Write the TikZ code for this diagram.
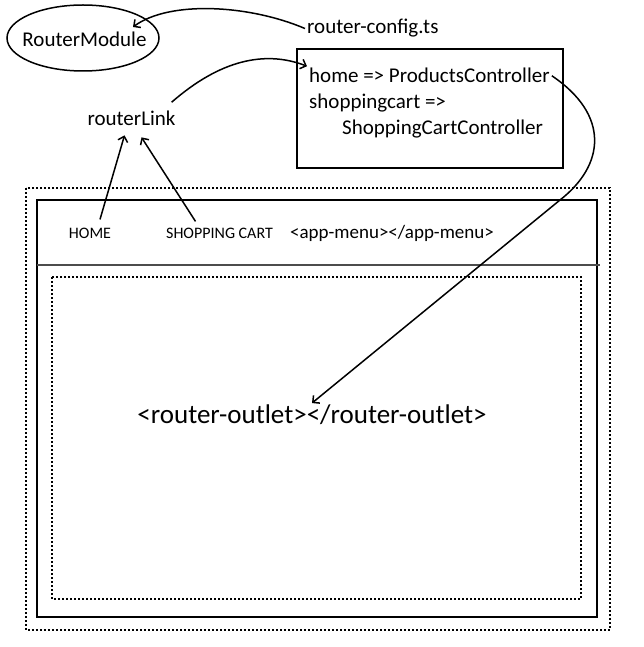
\documentclass[tikz,border=0pt]{standalone}
\usepackage{fontspec}
\setmainfont{Carlito}
\usetikzlibrary{arrows.meta,shapes.geometric}

\tikzset{
  txt/.style={font=\fontsize{21}{25}\selectfont, inner sep=2pt},
  menutxt/.style={font=\fontsize{16}{19}\selectfont, inner sep=2pt},
  solidframe/.style={line width=2pt},
  dotframe/.style={line width=2pt, dash pattern=on 2pt off 2pt},
  arrowlink/.style={line width=1.5pt, -{Straight Barb[length=5pt,width=10pt]}},
}

\begin{document}
\begin{tikzpicture}[x=1pt,y=-1pt]
        \useasboundingbox (0,0) rectangle (643,647);
        % page frames
        \draw[dotframe] (26,188) rectangle (610,630);
        \draw[solidframe] (37,200) rectangle (597,617);
        \draw[line width=2pt, black!70] (37,265) -- (600,265);
        \draw[dotframe] (52,277) rectangle (581,599);
        % top part
        \node[draw, ellipse, line width=1.5pt, minimum width=152pt, minimum height=66pt, inner sep=0pt] (rmod) at (83,38) {};
        \node[txt, anchor=base] (rmodtxt) at (84.5,47) {RouterModule};
        \node[txt, anchor=base west] (cfgfile) at (305,34) {router-config.ts};
        \node[draw, solidframe, minimum width=266pt, minimum height=119pt] (cfgbox) at (430,108.5) {};
        \node[txt, anchor=base west] (homeln) at (307,83) {home => ProductsController};
        \node[txt, anchor=base west] (cartln) at (307,109) {shoppingcart =>};
        \node[txt, anchor=base west] (cartctl) at (340,135) {ShoppingCartController};
        \node[txt, anchor=base] (rlink) at (131.5,126) {routerLink};
        % menu and outlet
        \node[menutxt, anchor=base] (homeitem) at (90,238) {HOME};
        \node[menutxt, anchor=base] (cartitem) at (219.5,238) {SHOPPING CART};
        \node[menutxt, font=\fontsize{19}{22}\selectfont, anchor=base] (appmenu) at (392,238) {<app-menu></app-menu>};
        \node[font=\fontsize{27}{32}\selectfont, inner sep=1pt, anchor=base] (outlet) at (312,423) {<router-outlet></router-outlet>};
        % arrows
        \draw[arrowlink] (cfgfile.west) .. controls (250,5) and (170,0) .. ([xshift=50pt,yshift=11pt]rmod.center);
        \draw[arrowlink] ([xshift=-6pt,yshift=7pt]rlink.north east) .. controls (220,60) and (265,50) .. (homeln.north west);
        \draw[arrowlink] ([xshift=10pt,yshift=6pt]homeitem.north) -- ([xshift=-7pt,yshift=-7pt]rlink.south);
        \draw[arrowlink] ([xshift=-24pt,yshift=4pt]cartitem.north) -- ([xshift=10pt,yshift=-9pt]rlink.south);
        \draw[arrowlink] (homeln.east) .. controls (610,115) and (605,165) .. (560,200) -- (outlet.north);
\end{tikzpicture}
\end{document}
